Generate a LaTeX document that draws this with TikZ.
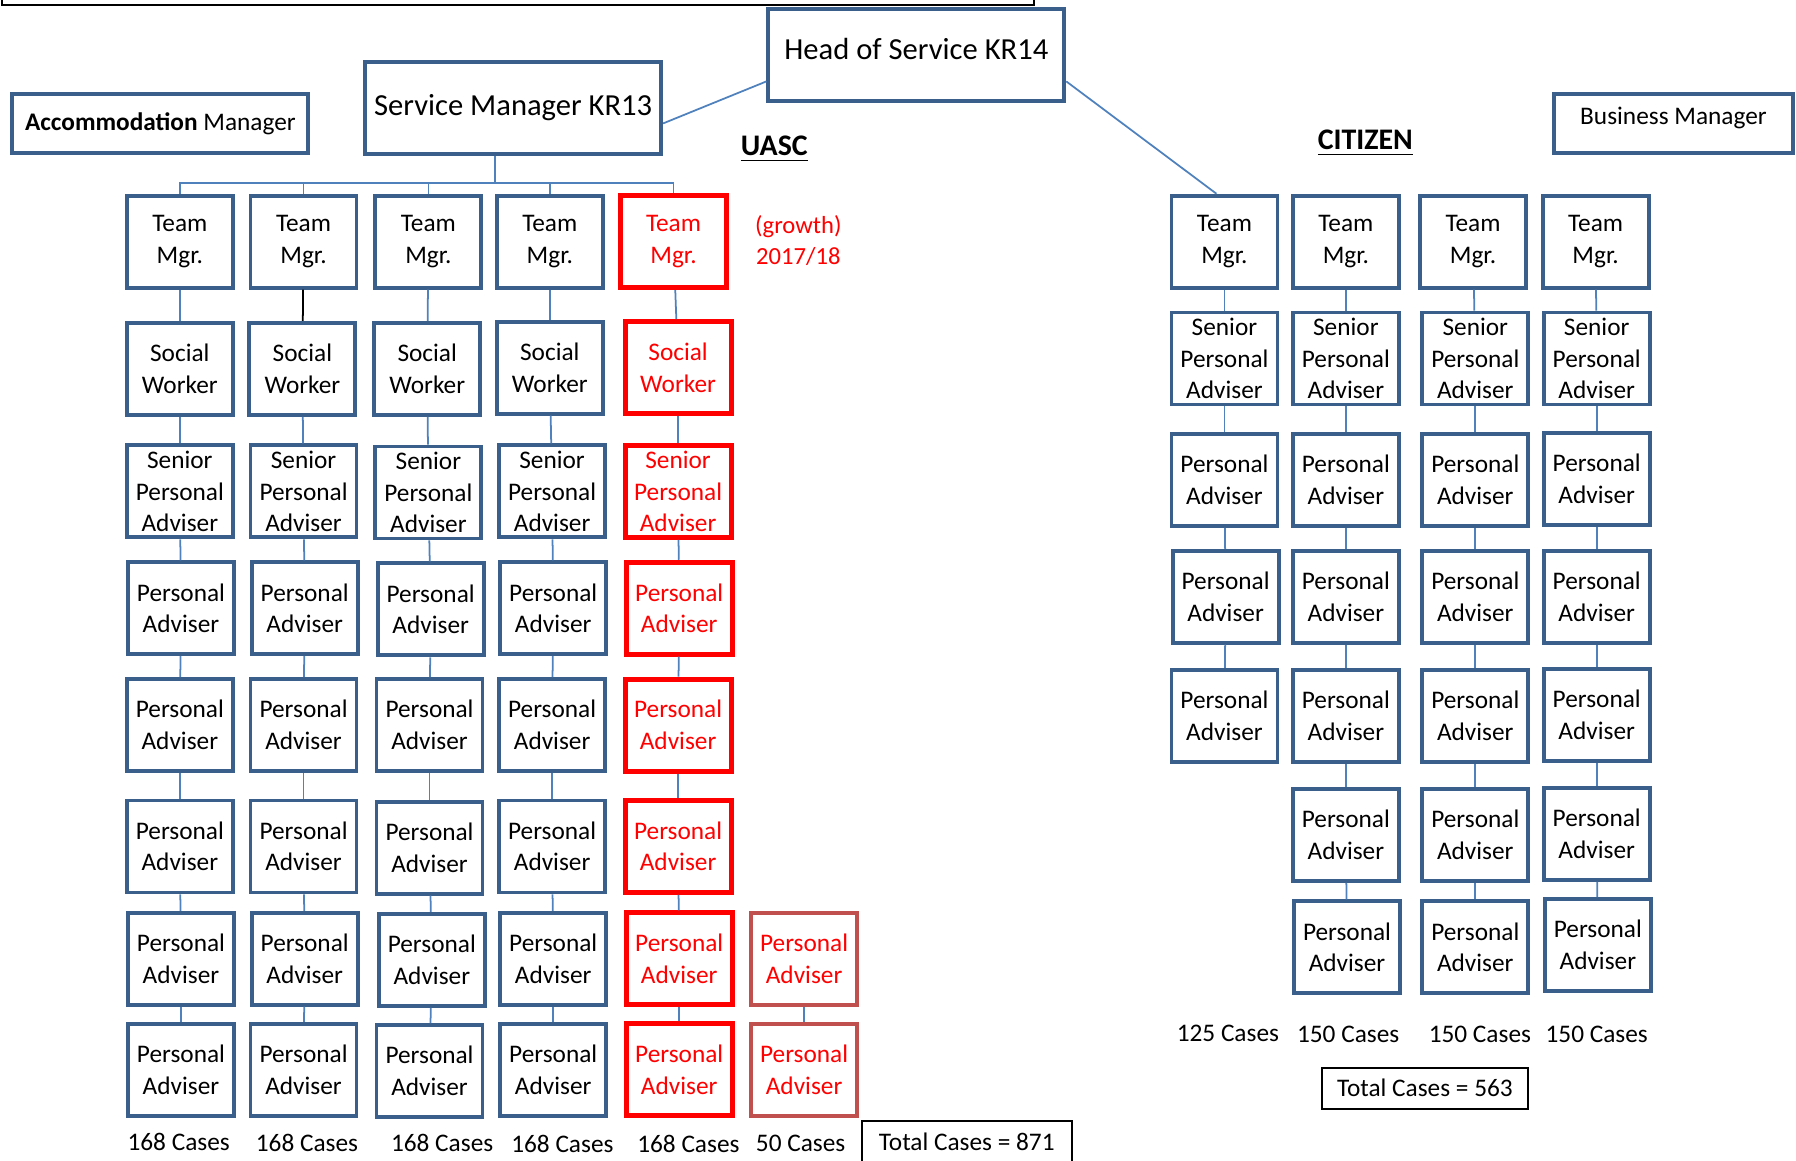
\documentclass[tikz,border=0pt]{standalone}
\usepackage{fontspec}
\setmainfont{Carlito}
\definecolor{boxblue}{HTML}{3A5F8B}
\definecolor{lineblue}{HTML}{4F81BD}
\definecolor{growred}{HTML}{C0504D}
\begin{document}
\begin{tikzpicture}[x=0.11454mm, y=-0.11454mm,
  post/.style={draw=boxblue, line width=1.1pt, align=center, minimum width=10.6mm, minimum height=9.2mm, inner sep=0pt, font=\fontsize{7.2}{9}\selectfont},
  newpost/.style={post, draw=red, text=red, line width=1.4pt},
  growpost/.style={post, draw=growred, text=red},
  head/.style={draw=boxblue, line width=1.1pt, minimum width=29.6mm, minimum height=9.2mm, inner sep=0pt, font=\fontsize{8.7}{10}\selectfont},
  side/.style={head, minimum height=5.9mm, font=\fontsize{7.2}{9}\selectfont},
  conn/.style={draw=lineblue, line width=0.5pt},
  cases/.style={font=\fontsize{7.2}{9}\selectfont},
  total/.style={draw, line width=0.6pt, minimum width=20.6mm, minimum height=3.8mm, font=\fontsize{7.2}{9}\selectfont},
  title/.style={font=\bfseries\fontsize{8.5}{10}\selectfont}]
\useasboundingbox (0,0) rectangle (1568,1013);

\draw [line width=0.6pt] (2,-20) rectangle (903,4);

\node [head, text depth=1.2mm] (hos) at (800,48) {Head of Service KR14};
\node [head] (smgr) at (448,94) {Service Manager KR13};
\node [side] (accm) at (140,108) {\textbf{Accommodation} Manager};
\node [side, minimum width=23.9mm, text depth=1.5mm] (bmgr) at (1461,108) {Business Manager};
\node [title] (uasc) at (676,130) {\underline{UASC}};
\node [title] (citz) at (1192,125) {\underline{CITIZEN}};
\node [align=center, text=red, font=\fontsize{7}{9}\selectfont] (growth) at (697,210) {(growth)\\2017/18};

% UASC teams
\node [post] (u1a) at (157,211) {Team\\Mgr.};
\node [post] (u1b) at (157,322) {Social\\Worker};
\node [post] (u1c) at (157,429) {Senior\\Personal\\Adviser};
\node [post] (u1d) at (158,531) {Personal\\Adviser};
\node [post] (u1e) at (157,633) {Personal\\Adviser};
\node [post] (u1f) at (157,739) {Personal\\Adviser};
\node [post] (u1g) at (158,837) {Personal\\Adviser};
\node [post] (u1h) at (158,934) {Personal\\Adviser};

\node [post] (u2a) at (265,211) {Team\\Mgr.};
\node [post] (u2b) at (264,322) {Social\\Worker};
\node [post] (u2c) at (265,429) {Senior\\Personal\\Adviser};
\node [post] (u2d) at (266,531) {Personal\\Adviser};
\node [post] (u2e) at (265,633) {Personal\\Adviser};
\node [post] (u2f) at (265,739) {Personal\\Adviser};
\node [post] (u2g) at (266,837) {Personal\\Adviser};
\node [post] (u2h) at (265,934) {Personal\\Adviser};

\node [post] (u3a) at (374,211) {Team\\Mgr.};
\node [post] (u3b) at (373,322) {Social\\Worker};
\node [post] (u3c) at (374,430) {Senior\\Personal\\Adviser};
\node [post] (u3d) at (376,532) {Personal\\Adviser};
\node [post] (u3e) at (375,633) {Personal\\Adviser};
\node [post] (u3f) at (375,740) {Personal\\Adviser};
\node [post] (u3g) at (377,838) {Personal\\Adviser};
\node [post] (u3h) at (375,935) {Personal\\Adviser};

\node [post] (u4a) at (480,211) {Team\\Mgr.};
\node [post] (u4b) at (480,321) {Social\\Worker};
\node [post] (u4c) at (482,429) {Senior\\Personal\\Adviser};
\node [post] (u4d) at (483,531) {Personal\\Adviser};
\node [post] (u4e) at (482,633) {Personal\\Adviser};
\node [post] (u4f) at (482,739) {Personal\\Adviser};
\node [post] (u4g) at (483,837) {Personal\\Adviser};
\node [post] (u4h) at (483,934) {Personal\\Adviser};

\node [newpost] (u5a) at (588,211) {Team\\Mgr.};
\node [newpost] (u5b) at (592,321) {Social\\Worker};
\node [newpost] (u5c) at (592,429) {Senior\\Personal\\Adviser};
\node [newpost] (u5d) at (593,531) {Personal\\Adviser};
\node [newpost] (u5e) at (592,633) {Personal\\Adviser};
\node [newpost] (u5f) at (592,739) {Personal\\Adviser};
\node [newpost] (u5g) at (593,837) {Personal\\Adviser};
\node [newpost] (u5h) at (593,934) {Personal\\Adviser};

\node [growpost] (u6g) at (702,837) {Personal\\Adviser};
\node [growpost] (u6h) at (702,934) {Personal\\Adviser};

% CITIZEN teams
\node [post] (c1a) at (1069,211) {Team\\Mgr.};
\node [post] (c1b) at (1069,313) {Senior\\Personal\\Adviser};
\node [post] (c1c) at (1069,419) {Personal\\Adviser};
\node [post] (c1d) at (1070,521) {Personal\\Adviser};
\node [post] (c1e) at (1069,625) {Personal\\Adviser};

\node [post] (c2a) at (1175,211) {Team\\Mgr.};
\node [post] (c2b) at (1175,313) {Senior\\Personal\\Adviser};
\node [post] (c2c) at (1175,419) {Personal\\Adviser};
\node [post] (c2d) at (1175,521) {Personal\\Adviser};
\node [post] (c2e) at (1175,625) {Personal\\Adviser};
\node [post] (c2f) at (1175,729) {Personal\\Adviser};
\node [post] (c2g) at (1176,827) {Personal\\Adviser};

\node [post] (c3a) at (1286,211) {Team\\Mgr.};
\node [post] (c3b) at (1288,313) {Senior\\Personal\\Adviser};
\node [post] (c3c) at (1288,419) {Personal\\Adviser};
\node [post] (c3d) at (1288,521) {Personal\\Adviser};
\node [post] (c3e) at (1288,625) {Personal\\Adviser};
\node [post] (c3f) at (1288,729) {Personal\\Adviser};
\node [post] (c3g) at (1288,827) {Personal\\Adviser};

\node [post] (c4a) at (1393,211) {Team\\Mgr.};
\node [post] (c4b) at (1394,313) {Senior\\Personal\\Adviser};
\node [post] (c4c) at (1394,418) {Personal\\Adviser};
\node [post] (c4d) at (1394,521) {Personal\\Adviser};
\node [post] (c4e) at (1394,624) {Personal\\Adviser};
\node [post] (c4f) at (1394,728) {Personal\\Adviser};
\node [post] (c4g) at (1395,825) {Personal\\Adviser};

% cases
\node [cases] (n1) at (156,997) {168 Cases};
\node [cases] (n2) at (268,998) {168 Cases};
\node [cases] (n3) at (386,998) {168 Cases};
\node [cases] (n4) at (491,999) {168 Cases};
\node [cases] (n5) at (601,999) {168 Cases};
\node [cases] (n6) at (699,998) {50 Cases};
\node [total, minimum width=21mm] (tot1) at (844,997) {Total Cases = 871};
\node [cases] (m1) at (1072,902) {125 Cases};
\node [cases] (m2) at (1177,903) {150 Cases};
\node [cases] (m3) at (1292,903) {150 Cases};
\node [cases] (m4) at (1394,903) {150 Cases};
\node [total] (tot2) at (1244,950) {Total Cases = 563};

% links
\coordinate (bus) at (432,160);
\path [conn] (smgr.-6) edge (hos.190) (hos.-10) edge ([xshift=-0.8mm]c1a.north);
\draw [conn] (bus |- smgr.south) -- (bus);
\draw [conn] (u1a.north) -- (u1a.north |- bus) -- (u5a.north |- bus) -- (u5a.north);
\draw [conn] (u2a.north) -- (u2a.north |- bus);
\draw [conn] (u3a.north) -- (u3a.north |- bus);
\draw [conn] (u4a.north) -- (u4a.north |- bus);

\path [conn] (u1a) edge (u1b) (u1b) edge (u1c) (u1c) edge (u1d) (u1d) edge (u1e) (u1e) edge (u1f) (u1f) edge (u1g) (u1g) edge (u1h);
\draw [line width=0.5pt] (u2a) -- (u2b);
\path [conn] (u2b) edge (u2c) (u2c) edge (u2d) (u2d) edge (u2e) (u2e) edge (u2f) (u2f) edge (u2g) (u2g) edge (u2h);
\path [conn] (u3a) edge (u3b) (u3b) edge (u3c) (u3c) edge (u3d) (u3d) edge (u3e) (u3e) edge (u3f) (u3f) edge (u3g) (u3g) edge (u3h);
\path [conn] (u4a) edge (u4b) (u4b) edge (u4c) (u4c) edge (u4d) (u4d) edge (u4e) (u4e) edge (u4f) (u4f) edge (u4g) (u4g) edge (u4h);
\path [conn] (u5a) edge (u5b) (u5b) edge (u5c) (u5c) edge (u5d) (u5d) edge (u5e) (u5e) edge (u5f) (u5f) edge (u5g) (u5g) edge (u5h);
\path [conn] (u6g) edge (u6h);

\path [conn] (c1a) edge (c1b) (c1b) edge (c1c) (c1c) edge (c1d) (c1d) edge (c1e);
\path [conn] (c2a) edge (c2b) (c2b) edge (c2c) (c2c) edge (c2d) (c2d) edge (c2e) (c2e) edge (c2f) (c2f) edge (c2g);
\path [conn] (c3a) edge (c3b) (c3b) edge (c3c) (c3c) edge (c3d) (c3d) edge (c3e) (c3e) edge (c3f) (c3f) edge (c3g);
\path [conn] (c4a) edge (c4b) (c4b) edge (c4c) (c4c) edge (c4d) (c4d) edge (c4e) (c4e) edge (c4f) (c4f) edge (c4g);

\end{tikzpicture}
\end{document}
